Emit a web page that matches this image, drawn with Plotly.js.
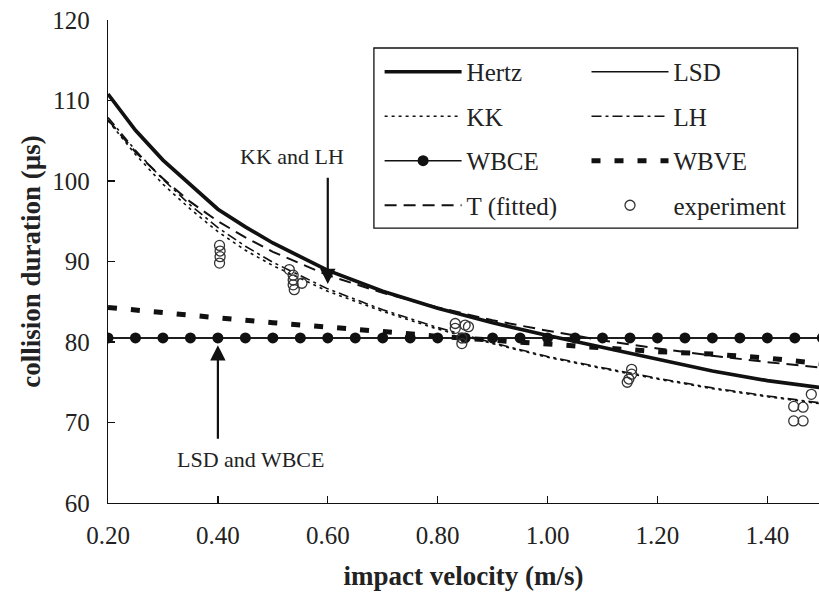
<!DOCTYPE html>
<html><head><meta charset="utf-8">
<script src="https://cdn.plot.ly/plotly-3.0.1.min.js"></script>
<style>html,body{margin:0;padding:0;background:#fff}#chart{width:819px;height:595px}</style>
</head><body><div id="chart"></div>
<script>
// impact velocity (m/s) grid for model curves
const velocity = [0.2,0.25,0.3,0.35,0.4,0.45,0.5,0.6,0.7,0.8,0.9,1.0,1.1,1.2,1.3,1.4,1.5];
const hertz    = [110.8,106.3,102.6,99.5,96.5,94.3,92.3,88.9,86.3,84.2,82.4,80.8,79.3,77.8,76.4,75.2,74.3];
const kk       = [107.5,103.3,99.6,96.5,93.7,91.4,89.5,86.3,83.8,81.6,79.8,78.1,76.7,75.4,74.2,73.2,72.3];
const lh       = [107.9,103.8,100.2,97.0,94.2,91.9,89.9,86.6,84.0,81.8,79.9,78.2,76.8,75.5,74.3,73.3,72.4];
const tFitted  = [107.6,103.6,100.3,97.4,95.0,93.0,91.2,88.3,86.1,84.3,82.7,81.4,80.2,79.2,78.3,77.5,76.8];

const wbveV    = [0.2,0.3,0.4,0.5,0.6,0.7,0.8,0.9,1.0,1.1,1.2,1.3,1.4,1.5];
const wbve     = [84.3,83.6,83.0,82.4,81.9,81.3,80.7,80.2,79.8,79.2,78.8,78.5,78.0,77.3];

const lsdV     = [0.2,1.5];
const lsd      = [80.5,80.5];

const wbceV    = [0.20,0.25,0.30,0.35,0.40,0.45,0.50,0.55,0.60,0.65,0.70,0.75,0.80,0.85,0.90,0.95,1.00,1.05,1.10,1.15,1.20,1.25,1.30,1.35,1.40,1.45,1.50];
const wbce     = [80.5,80.5,80.5,80.5,80.5,80.5,80.5,80.5,80.5,80.5,80.5,80.5,80.5,80.5,80.5,80.5,80.5,80.5,80.5,80.5,80.5,80.5,80.5,80.5,80.5,80.5,80.5];

const expV     = [0.403,0.404,0.404,0.403, 0.530,0.537,0.537,0.537,0.553,0.539, 0.832,0.832,0.850,0.856,0.844,0.844, 1.145,1.148,1.153,1.153, 1.448,1.465,1.448,1.465,1.480];
const expT     = [92.0,91.3,90.6,89.8, 89.0,88.3,87.7,87.1,87.3,86.5, 82.3,81.7,82.1,81.9,80.5,79.8, 75.0,75.4,76.0,76.6, 72.0,71.9,70.2,70.2,73.5];

const xTicks   = [0.2,0.4,0.6,0.8,1.0,1.2,1.4];
const xTickTxt = ['0.20','0.40','0.60','0.80','1.00','1.20','1.40'];

const FONT = 'Times New Roman';
const INK = '#111';

const traces = [
  {name:'LSD', x:lsdV, y:lsd, mode:'lines', line:{color:INK,width:1.3}, legend:'legend2', legendrank:1, legendgroup:'g1'},
  {name:'WBCE', x:wbceV, y:wbce, mode:'lines+markers', line:{color:INK,width:1.3}, marker:{color:INK,size:11,symbol:'circle'}, legend:'legend', legendrank:3, legendgroup:'g3'},
  {name:'WBVE', x:wbveV, y:wbve, mode:'lines', line:{color:INK,width:5,dash:'9px,14px'}, legend:'legend2', legendrank:3, legendgroup:'g3'},
  {name:'T (fitted)', x:velocity, y:tFitted, mode:'lines', line:{color:INK,width:2,dash:'12px,7px'}, legend:'legend', legendrank:4, legendgroup:'g4'},
  {name:'KK', x:velocity, y:kk, mode:'lines', line:{color:INK,width:1.6,dash:'3px,4px'}, legend:'legend', legendrank:2, legendgroup:'g2'},
  {name:'LH', x:velocity, y:lh, mode:'lines', line:{color:INK,width:1.6,dash:'10px,4px,3px,4px'}, legend:'legend2', legendrank:2, legendgroup:'g2'},
  {name:'Hertz', x:velocity, y:hertz, mode:'lines', line:{color:INK,width:3.7}, legend:'legend', legendrank:1, legendgroup:'g1'},
  {name:'experiment', x:expV, y:expT, mode:'markers', marker:{symbol:'circle-open',size:10,color:'#333',line:{width:1.3,color:'#333'}}, legend:'legend2', legendrank:4, legendgroup:'g4'}
];

const legendCommon = {
  orientation:'v', yanchor:'top', xanchor:'left', y:0.94,
  bgcolor:'rgba(0,0,0,0)', borderwidth:0, itemwidth:77, tracegroupgap:9,
  font:{family:FONT,size:25,color:'#222'}, traceorder:'grouped'
};

const layout = {
  width:819, height:595,
  margin:{l:108, r:0, t:20, b:92},
  paper_bgcolor:'#fff', plot_bgcolor:'#fff',
  font:{family:FONT, color:'#222', size:22},
  showlegend:true,
  legend:Object.assign({}, legendCommon, {x:0.382}),
  legend2:Object.assign({}, legendCommon, {x:0.673}),
  xaxis:{
    range:[0.2,1.494], tickvals:xTicks, ticktext:xTickTxt,
    ticks:'inside', ticklen:7, tickwidth:1.3, tickcolor:INK,
    showline:true, linecolor:INK, linewidth:1.3, showgrid:false, zeroline:false,
    ticklabelstandoff:10,
    tickfont:{family:FONT,size:25,color:'#222'},
    title:{text:'<b>impact velocity (m/s)</b>', font:{family:FONT,size:27,color:'#222'}, standoff:17}
  },
  yaxis:{
    range:[60,120], dtick:10, tick0:60,
    ticks:'inside', ticklen:7, tickwidth:1.3, tickcolor:INK,
    showline:true, linecolor:INK, linewidth:1.3, showgrid:false, zeroline:false,
    ticklabelstandoff:12,
    tickfont:{family:FONT,size:25,color:'#222'},
    title:{text:'<b>collision duration (µs)</b>', font:{family:FONT,size:27,color:'#222'}, standoff:3}
  },
  shapes:[
    {type:'rect', xref:'paper', yref:'paper', x0:0.374, x1:0.970, y0:0.569, y1:0.942, line:{color:INK,width:1.3}, fillcolor:'rgba(0,0,0,0)'}
  ],
  annotations:[
    {x:0.535, y:103.0, xref:'x', yref:'y', text:'KK and LH', showarrow:false, font:{family:FONT,size:22,color:'#222'}},
    {x:0.6, y:87.2, ax:0.6, ay:100.6, xref:'x', yref:'y', axref:'x', ayref:'y', text:'', showarrow:true, arrowhead:2, arrowsize:1.4, arrowwidth:2.2, arrowcolor:INK},
    {x:0.46, y:65.4, xref:'x', yref:'y', text:'LSD and WBCE', showarrow:false, font:{family:FONT,size:22,color:'#222'}},
    {x:0.4, y:79.6, ax:0.4, ay:67.8, xref:'x', yref:'y', axref:'x', ayref:'y', text:'', showarrow:true, arrowhead:2, arrowsize:1.4, arrowwidth:2.2, arrowcolor:INK}
  ]
};

Plotly.newPlot('chart', traces, layout, {staticPlot:true, displayModeBar:false});
</script>
</body></html>
